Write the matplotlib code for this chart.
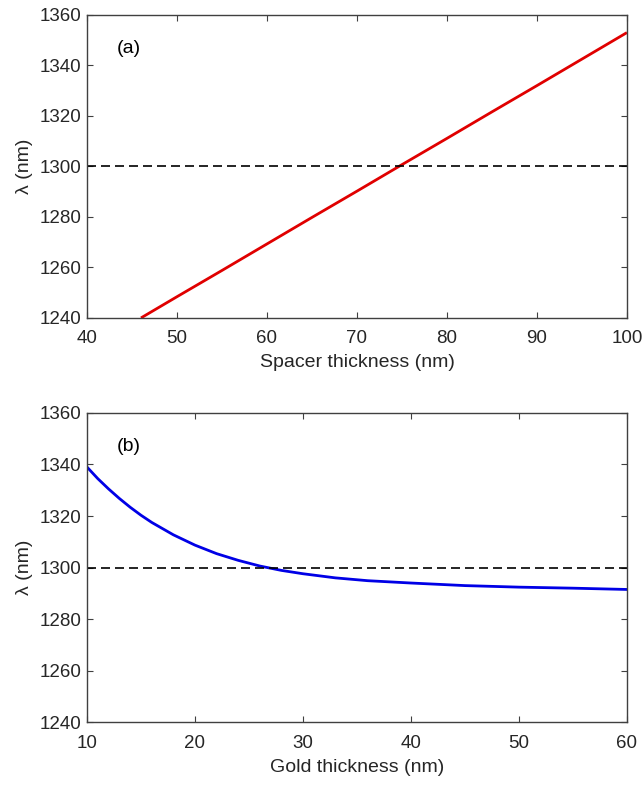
import numpy as np
import matplotlib
matplotlib.use('Agg')
from matplotlib import pyplot as plt

plt.rcParams['font.family'] = ['Liberation Sans', 'DejaVu Sans']

# panel (a): resonance wavelength vs spacer thickness
spacer_nm = [46, 50, 55, 60, 65, 70, 75, 80, 85, 90, 95, 100]
spacer_lam = [1240, 1248.4, 1258.8, 1269.3, 1279.8, 1290.2, 1300.7, 1311.1, 1321.6, 1332.0, 1342.5, 1353]

# panel (b): resonance wavelength vs gold thickness
gold_nm = [10, 11, 12, 13, 14, 15, 16, 18, 20, 22, 24, 26, 28, 30, 33, 36, 40, 45, 50, 55, 60]
gold_lam = [1339, 1334.5, 1330.5, 1326.8, 1323.4, 1320.3, 1317.5, 1312.7, 1308.7, 1305.4, 1302.8, 1300.6,
            1298.9, 1297.6, 1296, 1294.9, 1294, 1293, 1292.4, 1292, 1291.5]

target_lam = 1300
yticks = [1240, 1260, 1280, 1300, 1320, 1340, 1360]

fig = plt.figure(figsize=(6.42, 7.85), dpi=100)
ax1 = fig.add_axes([0.1355, 0.595, 0.841, 0.386])
ax2 = fig.add_axes([0.1355, 0.080, 0.841, 0.394])

def style(ax, xlim, xticks, xlabel, tag):
    ax.set_xlim(xlim)
    ax.set_ylim(1240, 1360)
    ax.set_xticks(xticks)
    ax.set_yticks(yticks)
    ax.tick_params(direction='in', top=True, right=True, labelsize=13.5, length=4.5, width=0.8,
                   color='#404040', labelcolor='#262626')
    ax.tick_params(axis='x', pad=9)
    ax.tick_params(axis='y', pad=4)
    for s in ax.spines.values():
        s.set_linewidth(1.0)
        s.set_color('#404040')
    ax.set_xlabel(xlabel, fontsize=14, color='#262626', labelpad=5)
    ax.set_ylabel('λ (nm)', fontsize=14, color='#262626', labelpad=5)
    ax.text(0.056, 0.89, tag, transform=ax.transAxes, fontsize=14, va='center', ha='left')

ax1.plot(spacer_nm, spacer_lam, color='#e00000', lw=2.0, solid_capstyle='butt')
ax1.axhline(target_lam, color='black', lw=1.2, ls=(0, (5.4, 3)))
style(ax1, (40, 100), range(40, 101, 10), 'Spacer thickness (nm)', '(a)')

ax2.plot(gold_nm, gold_lam, color='#0000e6', lw=2.0)
ax2.axhline(target_lam, color='black', lw=1.2, ls=(0, (5.4, 3)))
style(ax2, (10, 60), range(10, 61, 10), 'Gold thickness (nm)', '(b)')

fig.savefig('out.png', dpi=100)
